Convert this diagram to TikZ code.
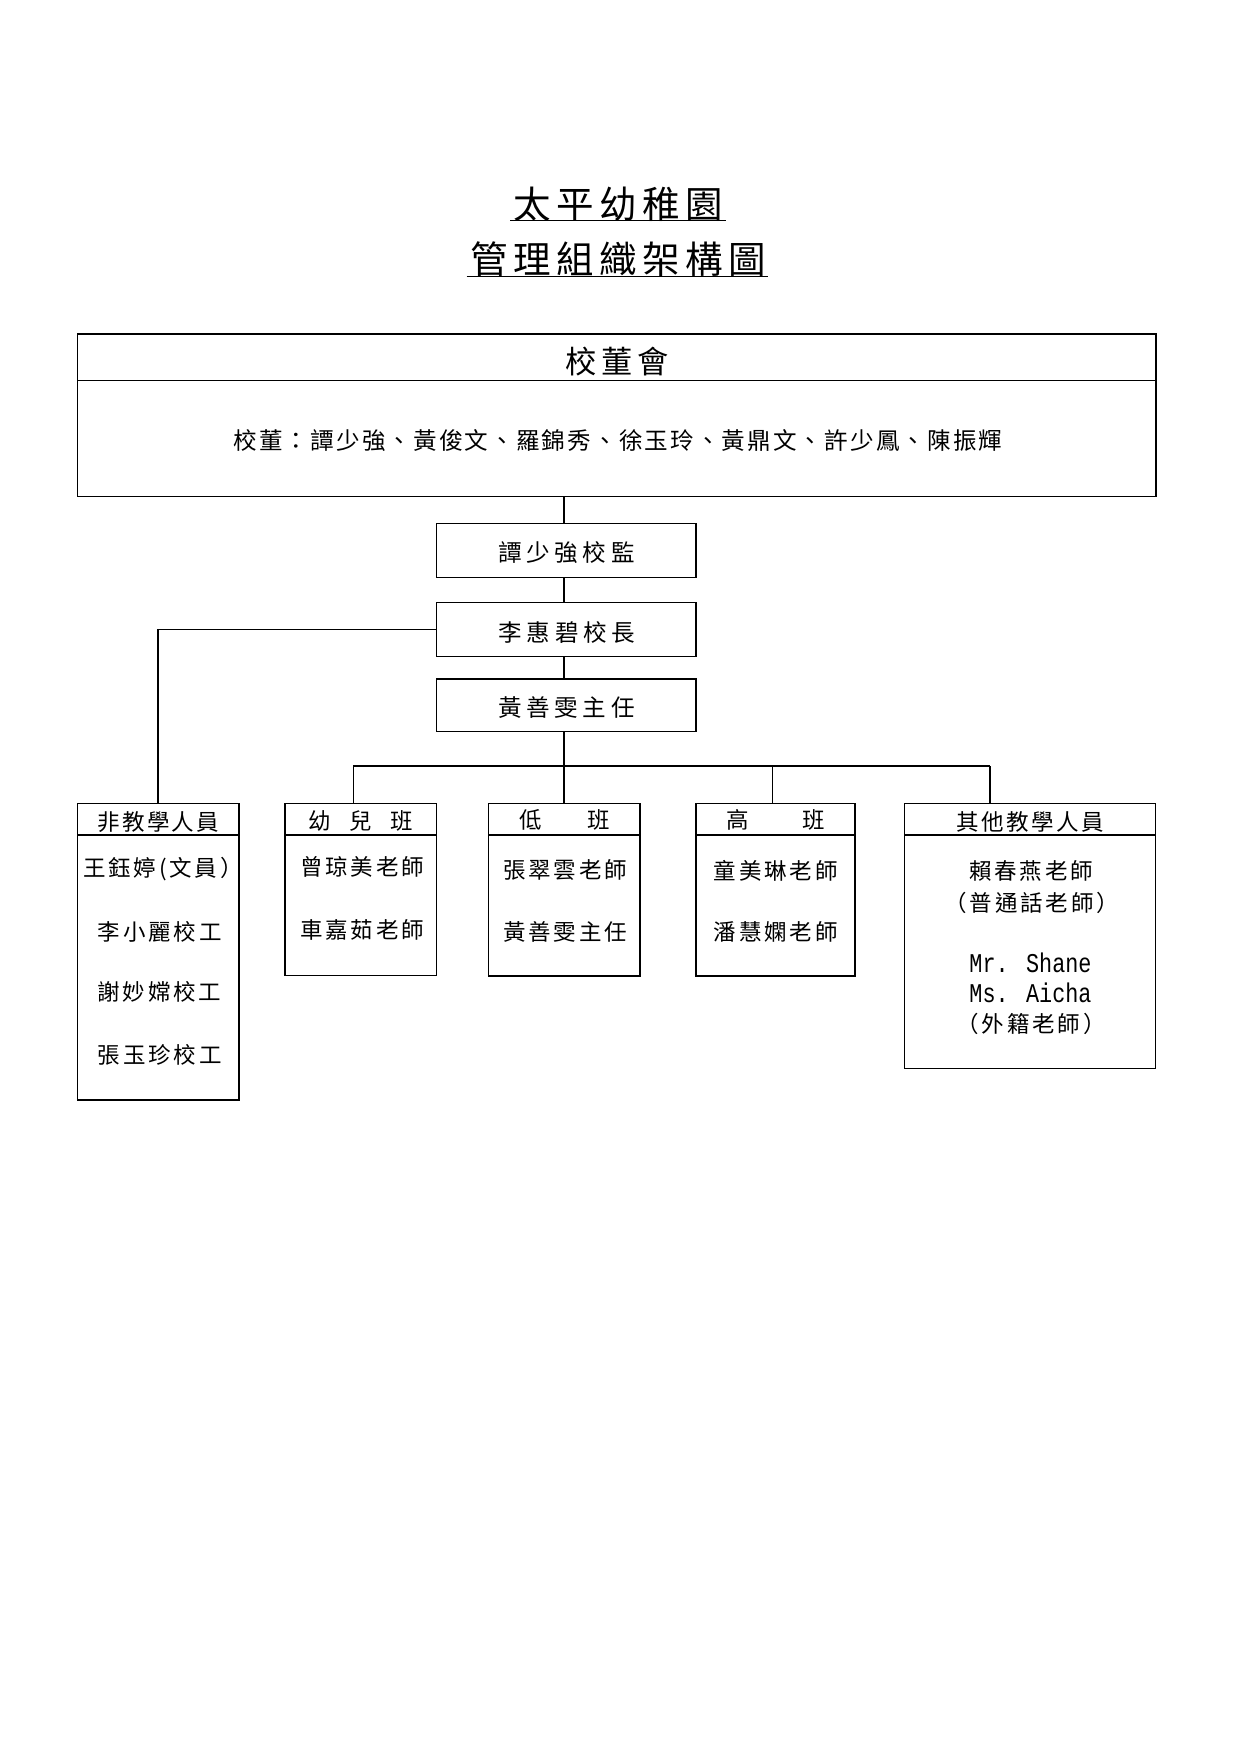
\documentclass[tikz,border=0pt]{standalone}
\usepackage{fontspec}
\usepackage{graphicx}
\setmainfont{Noto Sans CJK TC}
\newfontfamily\lmono{Liberation Mono}
\usetikzlibrary{fit}
\newdimen\lsamt
\def\lsend{LSEND}
\newcommand\ls[2]{\lsamt=#1\relax\lsB#2\lsend}
\def\lsB#1{#1\lsA}
\def\lsA#1{\ifx#1\lsend\else\kern\lsamt#1\expandafter\lsA\fi}
\begin{document}
\begin{tikzpicture}[x=0.47968pt,y=-0.47968pt,
  box/.style={draw, line width=0.65pt, inner sep=0pt, outer sep=0pt},
  conn/.style={draw, line width=0.65pt},
  uline/.style={draw, line width=0.75pt},
  body/.style={inner sep=0pt, font=\fontsize{10.8}{12}\selectfont},
  mid/.style={inner sep=0pt, font=\fontsize{11.3}{13}\selectfont},
  ttl/.style={inner sep=0pt, font=\fontsize{18}{21}\selectfont},
  big/.style={inner sep=0pt, font=\fontsize{15}{17}\selectfont},
  latin/.style={inner sep=0pt, font=\fontsize{11}{13}\lmono},
]
\useasboundingbox (0,0) rectangle (1241,1755);
\fill[white] (0,0) rectangle (1241,1755);

% title
\node[ttl] (t1) at (618,204) {\ls{2.6pt}{太平幼稚園}};
\node[ttl] (t2) at (618,259) {\ls{2.6pt}{管理組織架構圖}};
\draw[uline] (510,220.7) -- (726,220.7);
\draw[uline] (466.7,276.7) -- (768,276.7);

% board
\node[box, fit={(77.7,334) (1156,496.7)}] (board) {};
\draw[conn] (board.west |- 0,380.3) -- (board.east |- 0,380.3);
\node[big] (boardT) at (617.5,362) {\ls{2.25pt}{校董會}};
\node[mid] (boardL) at (618,441) {\ls{1.03pt}{校董：譚少強、黃俊文、羅錦秀、徐玉玲、黃鼎文、許少鳳、陳振輝}};

% chain
\node[box, fit={(436.7,523.3) (696,577.3)}] (sup) {};
\node[mid] (supT) at (566.5,553) {\ls{2.25pt}{譚少強校監}};
\node[box, fit={(436.7,602.3) (696,656.7)}] (prin) {};
\node[mid] (prinT) at (567,632) {\ls{2.25pt}{李惠碧校長}};
\node[box, fit={(436.7,679) (696,731.7)}] (dir) {};
\node[mid] (dirT) at (566.5,708) {\ls{2.25pt}{黃善雯主任}};

% lower boxes
\node[box, fit={(77.3,803.3) (239,1100)}] (nt) {};
\node[box, fit={(285,803.3) (436.7,975.7)}] (k1) {};
\node[box, fit={(488.3,803.3) (640,976)}] (low) {};
\node[box, fit={(696,803.3) (855,976)}] (high) {};
\node[box, fit={(904.3,803.3) (1155.7,1068.3)}] (oth) {};
\foreach \b in {nt,k1,low,high,oth}{
  \draw[conn] (\b.west |- 0,835) -- (\b.east |- 0,835);
}

% non-teaching
\node[body] (ntH) at (158.5,822) {\ls{1.05pt}{非教學人員}};
\node[body] (nt1) at (163,869) {\ls{1.35pt}{王鈺婷(文員）}};
\node[body] (nt2) at (159.7,931.7) {\ls{1.35pt}{李小麗校工}};
\node[body] (nt3) at (159.3,992) {\ls{1.35pt}{謝妙嫦校工}};
\node[body] (nt4) at (159.7,1055) {\ls{1.35pt}{張玉珍校工}};

% k1
\node[body] (k1H) at (360.8,821) {\ls{8.8pt}{幼兒班}};
\node[body] (k11) at (362,867) {\ls{1.35pt}{曾琼美老師}};
\node[body] (k12) at (362,930.3) {\ls{1.35pt}{車嘉茹老師}};

% low
\node[body] (lowH) at (565,820) {\ls{22pt}{低班}};
\node[body] (low1) at (565,870) {\ls{1.35pt}{張翠雲老師}};
\node[body] (low2) at (565,931.7) {\ls{1.35pt}{黃善雯主任}};

% high
\node[body] (highH) at (775.8,820) {\ls{25.95pt}{高班}};
\node[body] (high1) at (775.8,871) {\ls{1.35pt}{童美琳老師}};
\node[body] (high2) at (775.8,931.7) {\ls{1.35pt}{潘慧嫻老師}};

% other
\node[body] (othH) at (1030,822) {\ls{1.2pt}{其他教學人員}};
\node[body] (oth1) at (1031,871) {\ls{1.35pt}{賴春燕老師}};
\node[body] (oth2) at (1031.7,902.5) {\ls{1.35pt}{（普通話老師）}};
\node[latin] (oth3) at (1030.5,962.5) {\scalebox{0.95}[1.18]{Mr. Shane}};
\node[latin] (oth4) at (1030.5,993) {\scalebox{0.95}[1.18]{Ms. Aicha}};
\node[body] (oth5) at (1031,1024) {\ls{1.35pt}{（外籍老師）}};

% connectors
\coordinate (c0) at (564,766);
\coordinate (b1) at (353.3,766);
\coordinate (b3) at (772.7,766);
\coordinate (b5) at (990,766);
\draw[conn] (c0 |- board.south) -- (c0 |- sup.north);
\draw[conn] (c0 |- sup.south) -- (c0 |- prin.north);
\draw[conn] (c0 |- prin.south) -- (c0 |- dir.north);
\draw[conn] (c0 |- dir.south) -- (c0) -- (c0 |- low.north);
\draw[conn] (prin.west) -| (nt.north);
\draw[conn] (b1) -- (b5);
\draw[conn] (b1) -- (b1 |- k1.north);
\draw[conn] (b3) -- (b3 |- high.north);
\draw[conn] (b5) -- (b5 |- oth.north);
\end{tikzpicture}
\end{document}
